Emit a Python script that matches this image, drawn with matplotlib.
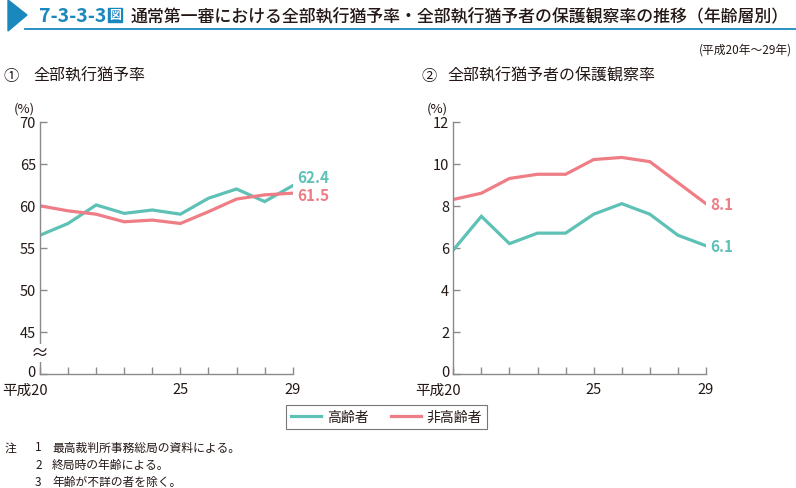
import matplotlib.pyplot as plt
import matplotlib.transforms as mtransforms
from matplotlib.patches import Polygon, Rectangle
from matplotlib.lines import Line2D

plt.rcParams['font.family'] = ['Noto Sans CJK JP', 'DejaVu Sans']

# data
years = [20, 21, 22, 23, 24, 25, 26, 27, 28, 29]
year_labels = ['平成20', '', '', '', '', '25', '', '', '', '29']
rate_elderly = [56.5, 57.9, 60.1, 59.1, 59.5, 59.0, 60.9, 62.0, 60.5, 62.4]
rate_nonelderly = [60.0, 59.4, 59.0, 58.1, 58.3, 57.9, 59.3, 60.8, 61.3, 61.5]
prob_elderly = [5.9, 7.5, 6.2, 6.7, 6.7, 7.6, 8.1, 7.6, 6.6, 6.1]
prob_nonelderly = [8.3, 8.6, 9.3, 9.5, 9.5, 10.2, 10.3, 10.1, 9.1, 8.1]
series_names = ['高齢者', '非高齢者']

TEAL = '#5dc1b6'
PINK = '#ee7d86'
BLUE = '#1a88bd'
TXT = '#231815'
GRAY = '#8a8a8a'

W, H = 796, 489
fig = plt.figure(figsize=(W / 100, H / 100), dpi=100)


def fx(px):
    return px / W


def fy(py):
    return 1 - py / H


def shift(txt, dx_px, dy_px):
    txt.set_transform(txt.get_transform() +
                      mtransforms.ScaledTranslation(dx_px / 100, dy_px / 100, fig.dpi_scale_trans))


# header
fig.patches.append(Polygon([[fx(8), fy(1)], [fx(8), fy(32)], [fx(27), fy(16)]],
                           closed=True, color=BLUE, transform=fig.transFigure))
fig.lines.append(Line2D([fx(25), fx(796)], [fy(29.5), fy(29.5)], color=BLUE, lw=1.3,
                        transform=fig.transFigure))
fig.text(fx(39), fy(16), '7-3-3-3', color=BLUE, fontsize=14, fontweight='bold',
         va='center', ha='left')
fig.patches.append(Rectangle((fx(108), fy(22.5)), fx(14), 13.5 / H, color=BLUE,
                             transform=fig.transFigure))
fig.text(fx(115), fy(15.8), '図', color='white', fontsize=8.5, fontweight='bold',
         va='center', ha='center')
fig.text(fx(131), fy(16), '通常第一審における全部執行猶予率・全部執行猶予者の保護観察率の推移（年齢層別）',
         color=TXT, fontsize=12.2, fontweight='medium', va='center', ha='left')
fig.text(fx(792), fy(50), '(平成20年～29年)', color=TXT, fontsize=8.5, va='center', ha='right')
fig.text(fx(3), fy(76), '①', color=TXT, fontsize=11, va='center', ha='left')
fig.text(fx(33), fy(76), '全部執行猶予率', color=TXT, fontsize=11.5, va='center', ha='left')
fig.text(fx(421), fy(76), '②', color=TXT, fontsize=11, va='center', ha='left')
fig.text(fx(447), fy(76), '全部執行猶予者の保護観察率', color=TXT, fontsize=11.5, va='center', ha='left')

ax1 = fig.add_axes([fx(40), fy(375), fx(292.7 - 40), (375 - 122.7) / H])
ax2 = fig.add_axes([fx(453.3), fy(375), fx(706 - 453.3), (375 - 122.7) / H])


def style(ax):
    for s in ['top', 'right']:
        ax.spines[s].set_visible(False)
    for s in ['left', 'bottom']:
        ax.spines[s].set_color(GRAY)
        ax.spines[s].set_linewidth(1)
    ax.tick_params(direction='in', length=5, color=GRAY, width=1, labelsize=10.5,
                   labelcolor=TXT)
    ax.tick_params(axis='x', pad=6)
    ax.tick_params(axis='y', pad=3)
    ax.set_xlim(20, 29)
    ax.set_xticks(years)
    ax.set_xticklabels(year_labels)
    # put the "20" of 平成20 under its tick
    first = ax.get_xticklabels()[0]
    first.set_ha('right')
    shift(first, 8, 0)
    ax.text(-0.02, 1.03, '(%)', transform=ax.transAxes, ha='right', va='bottom',
            fontsize=9.5, color=TXT)


# left: suspended sentence rate (axis broken between 0 and 45)
style(ax1)
ax1.plot(years, rate_elderly, color=TEAL, lw=2.3, solid_joinstyle='miter')
ax1.plot(years, rate_nonelderly, color=PINK, lw=2.3, solid_joinstyle='miter')
ax1.set_ylim(40, 70)
ax1.set_yticks([40, 45, 50, 55, 60, 65, 70])
ax1.set_yticklabels(['0', '45', '50', '55', '60', '65', '70'])
shift(ax1.get_yticklabels()[0], 0, 3)
ax1.text(20, 42.5, '≈', ha='center', va='center', fontsize=13, color=TXT,
         clip_on=False, bbox=dict(facecolor='white', edgecolor='none', pad=0.2))
ax1.annotate(f'{rate_elderly[-1]:.1f}', xy=(29, rate_elderly[-1]), xytext=(3, 6),
             textcoords='offset points', color=TEAL, fontsize=11, fontweight='bold',
             va='center', ha='left', annotation_clip=False)
ax1.annotate(f'{rate_nonelderly[-1]:.1f}', xy=(29, rate_nonelderly[-1]), xytext=(3, -1),
             textcoords='offset points', color=PINK, fontsize=11, fontweight='bold',
             va='center', ha='left', annotation_clip=False)

# right: probation rate
style(ax2)
ax2.plot(years, prob_elderly, color=TEAL, lw=2.3, solid_joinstyle='miter')
ax2.plot(years, prob_nonelderly, color=PINK, lw=2.3, solid_joinstyle='miter')
ax2.set_ylim(0, 12)
ax2.set_yticks(range(0, 13, 2))
shift(ax2.get_yticklabels()[0], 0, 3)
ax2.annotate(f'{prob_nonelderly[-1]:.1f}', xy=(29, prob_nonelderly[-1]), xytext=(3, 0),
             textcoords='offset points', color=PINK, fontsize=11, fontweight='bold',
             va='center', ha='left', annotation_clip=False)
ax2.annotate(f'{prob_elderly[-1]:.1f}', xy=(29, prob_elderly[-1]), xytext=(3, 0),
             textcoords='offset points', color=TEAL, fontsize=11, fontweight='bold',
             va='center', ha='left', annotation_clip=False)

# legend
handles = [Line2D([], [], color=TEAL, lw=2.3), Line2D([], [], color=PINK, lw=2.3)]
leg = fig.legend(handles, series_names, loc='center', bbox_to_anchor=(fx(386.5), fy(418)),
                 ncol=2, frameon=True, fancybox=False, fontsize=10, handlelength=2.2,
                 handletextpad=0.4, columnspacing=1.6, borderpad=0.35)
leg.get_frame().set_edgecolor('#555555')
leg.get_frame().set_linewidth(0.8)
for t in leg.get_texts():
    t.set_color(TXT)

# notes
notes = ['最高裁判所事務総局の資料による。', '終局時の年齢による。', '年齢が不詳の者を除く。']
fig.text(fx(5), fy(448), '注', fontsize=8.5, color=TXT, va='center')
for i, n in enumerate(notes):
    y = 448 + i * 17.5
    fig.text(fx(35), fy(y), str(i + 1), fontsize=8.5, color=TXT, va='center')
    fig.text(fx(52), fy(y), n, fontsize=8.5, color=TXT, va='center')

fig.savefig('out.png', dpi=100)
